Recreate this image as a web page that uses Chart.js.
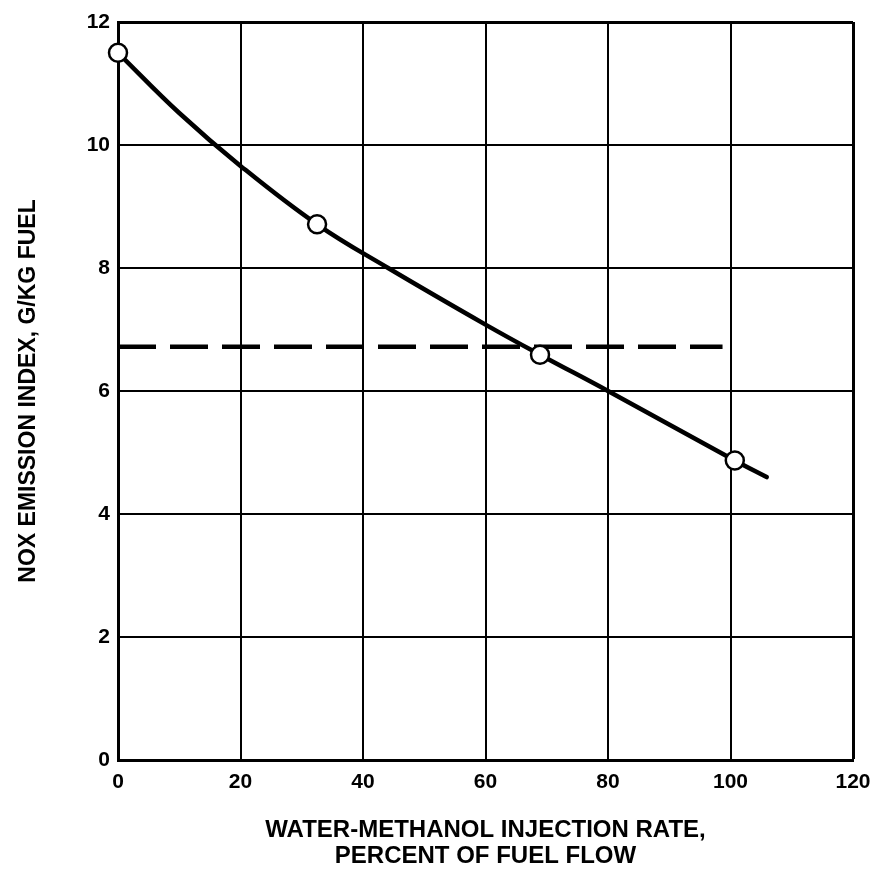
<!DOCTYPE html>
<html>
<head>
<meta charset="utf-8">
<script src="https://cdn.jsdelivr.net/npm/chart.js@4/dist/chart.umd.min.js"></script>
<style>
html, body { margin: 0; padding: 0; background: #fff; }
canvas { display: block; }
</style>
</head>
<body>
<canvas id="noxChart" width="874" height="879"></canvas>
<script>
// measured test points
const pointX = [0, 32.5, 68.9, 100.7];
const pointY = [11.5, 8.71, 6.59, 4.87];

// faired curve
const curveX = [0, 10, 20, 32.5, 44.1, 60, 68.9, 80, 100.7, 105.9];
const curveY = [11.5, 10.52, 9.66, 8.71, 8.0, 7.08, 6.59, 6.0, 4.87, 4.6];

// dashed reference level
const dashX = [0, 98.7];
const dashY = [6.72, 6.72];

const xTicks = [0, 20, 40, 60, 80, 100, 120];
const yTicks = [0, 2, 4, 6, 8, 10, 12];

const toXY = (xs, ys) => xs.map((x, i) => ({ x: x, y: ys[i] }));

const tickFont = { family: "Liberation Sans", size: 21, weight: "bold" };
const titleFont = { family: "Liberation Sans", size: 24, weight: "bold", lineHeight: "26px" };

new Chart(
document.getElementById("noxChart"),
{
type: "scatter",
data: {
datasets: [
{
label: "data",
data: toXY(pointX, pointY),
showLine: false,
pointRadius: 9,
pointBorderWidth: 2.5,
pointBackgroundColor: "#fff",
pointBorderColor: "#000",
clip: false,
order: 0
},
{
label: "curve",
data: toXY(curveX, curveY),
showLine: true,
pointRadius: 0,
borderColor: "#000",
borderWidth: 4.5,
tension: 0.4,
borderCapStyle: "round",
order: 1
},
{
label: "dashed",
data: toXY(dashX, dashY),
showLine: true,
pointRadius: 0,
borderColor: "#000",
borderWidth: 4.5,
borderDash: [38, 14],
order: 2
}
]
},
options: {
responsive: false,
animation: false,
layout: { padding: { top: 22, right: 21, bottom: 0, left: 0 } },
plugins: {
legend: { display: false },
tooltip: { enabled: false }
},
scales: {
x: {
type: "linear",
min: 0,
max: 120,
afterBuildTicks: s => { s.ticks = xTicks.map(v => ({ value: v })); },
afterFit: s => { s.height = 119; s.paddingRight = 0; s.paddingLeft = 0; },
grid: {
color: "#000",
lineWidth: c => c.tick && c.tick.value === 120 ? 3 : 2,
drawTicks: false
},
border: { color: "#000", width: 3 },
ticks: { color: "#000", font: tickFont, padding: 10, maxRotation: 0 },
title: {
display: true,
text: ["WATER-METHANOL INJECTION RATE,", "PERCENT OF FUEL FLOW"],
color: "#000",
font: titleFont,
padding: { top: 0, bottom: 10 }
}
},
y: {
type: "linear",
min: 0,
max: 12,
afterBuildTicks: s => { s.ticks = yTicks.map(v => ({ value: v })); },
afterFit: s => { s.width = 118; },
grid: {
color: "#000",
lineWidth: c => c.tick && c.tick.value === 12 ? 3 : 2,
drawTicks: false
},
border: { color: "#000", width: 3 },
ticks: { color: "#000", font: tickFont, padding: 8 },
title: {
display: true,
text: "NOX EMISSION INDEX, G/KG FUEL",
color: "#000",
font: { family: "Liberation Sans", size: 23, weight: "bold" },
padding: { top: 15, bottom: 0 }
}
}
}
}
});
</script>
</body>
</html>
